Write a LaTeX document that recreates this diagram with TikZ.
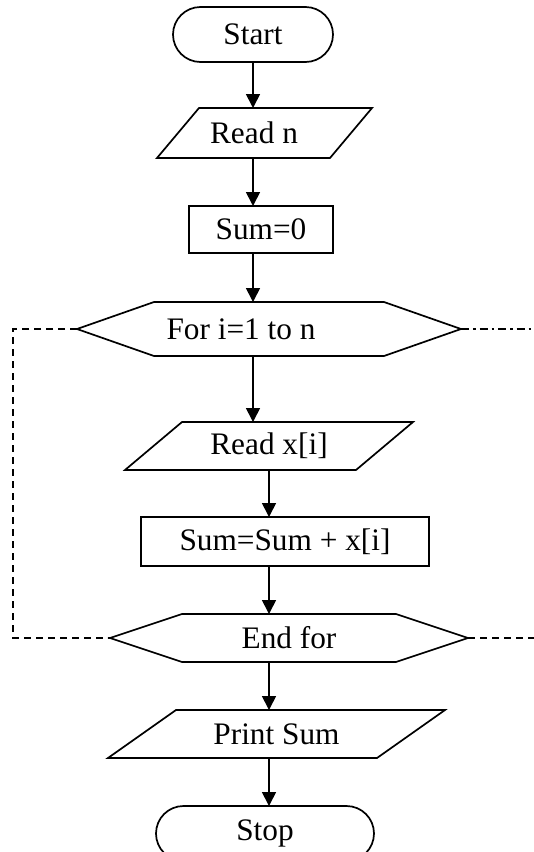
\documentclass[tikz,border=0pt]{standalone}
\usepackage{fontspec}
\setmainfont{Liberation Serif}
\usetikzlibrary{arrows.meta,shapes.misc,calc}
\tikzset{
  shapeline/.style={line width=1.7pt, line join=miter},
  box/.style={rectangle, inner sep=0pt, outer sep=0pt},
  terminal/.style={rounded rectangle, draw, line width=1.7pt, inner sep=0pt, outer sep=0pt},
  arr/.style={line width=1.7pt, -{Triangle[length=14pt,width=14pt]}},
  loopdash/.style={line width=1.4pt, dash pattern=on 7pt off 5pt},
  loopdashdot/.style={line width=1.4pt, dash pattern=on 8pt off 4pt on 2.5pt off 4pt}
}
\begin{document}
\begin{tikzpicture}[x=1pt, y=-1pt, font=\fontsize{31.3}{37}\selectfont]
\useasboundingbox (0,0) rectangle (534,852);

% nodes
\node[terminal, minimum width=160pt, minimum height=55pt] (start) at (253,34.5) {Start};
\node[box, minimum width=215pt, minimum height=50pt,
      label={[xshift=-10.5pt]center:Read n}] (readn) at (264.5,133) {};
\node[box, draw, line width=1.7pt, minimum width=144pt, minimum height=47pt] (sum0) at (261,229.5) {Sum=0};
\node[box, minimum width=384pt, minimum height=54pt,
      label={[xshift=-28pt]center:For i=1 to n}] (for) at (269,329) {};
\node[box, minimum width=288pt, minimum height=48pt] (readx) at (269,446) {Read x[i]};
\node[box, draw, line width=1.7pt, minimum width=288pt, minimum height=49pt] (sumsum) at (285,541.5) {Sum=Sum + x[i]};
\node[box, minimum width=358pt, minimum height=48pt] (endfor) at (289,638) {End for};
\node[box, minimum width=337pt, minimum height=48pt] (print) at (276.5,734) {Print Sum};
\node[terminal, minimum width=218pt, minimum height=55pt] (stop) at (265,833.5) {Stop};

% outlines
\draw[shapeline] (readn.south west) -- ([xshift=42pt]readn.north west) -- (readn.north east) -- ([xshift=-42pt]readn.south east) -- cycle;
\draw[shapeline] (readx.south west) -- ([xshift=57pt]readx.north west) -- (readx.north east) -- ([xshift=-57pt]readx.south east) -- cycle;
\draw[shapeline] (print.south west) -- ([xshift=68pt]print.north west) -- (print.north east) -- ([xshift=-68pt]print.south east) -- cycle;
\draw[shapeline] (for.west) -- ([xshift=77pt]for.north west) -- ([xshift=-77pt]for.north east) -- (for.east) -- ([xshift=-77pt]for.south east) -- ([xshift=77pt]for.south west) -- cycle;
\draw[shapeline] (endfor.west) -- ([xshift=72pt]endfor.north west) -- ([xshift=-72pt]endfor.north east) -- (endfor.east) -- ([xshift=-72pt]endfor.south east) -- ([xshift=72pt]endfor.south west) -- cycle;

% columns for connectors
\coordinate (c1) at (253,0);
\coordinate (c2) at (269,0);
\coordinate (lx) at (13,0);
\coordinate (rx) at (540,0);

% connectors
\draw[arr] (c1 |- start.south) -- (c1 |- readn.north);
\draw[arr] (c1 |- readn.south) -- (c1 |- sum0.north);
\draw[arr] (c1 |- sum0.south) -- (c1 |- for.north);
\draw[arr] (c1 |- for.south) -- (c1 |- readx.north);
\draw[arr] (c2 |- readx.south) -- (c2 |- sumsum.north);
\draw[arr] (c2 |- sumsum.south) -- (c2 |- endfor.north);
\draw[arr] (c2 |- endfor.south) -- (c2 |- print.north);
\draw[arr] (c2 |- print.south) -- (c2 |- stop.north);

% loop lines
\draw[loopdash] (for.west) -- (lx |- for.west) -- (lx |- endfor.west) -- (endfor.west);
\draw[loopdashdot] (for.east) -- (rx |- for.east);
\draw[loopdash] (endfor.east) -- (rx |- endfor.east);
\end{tikzpicture}
\end{document}
